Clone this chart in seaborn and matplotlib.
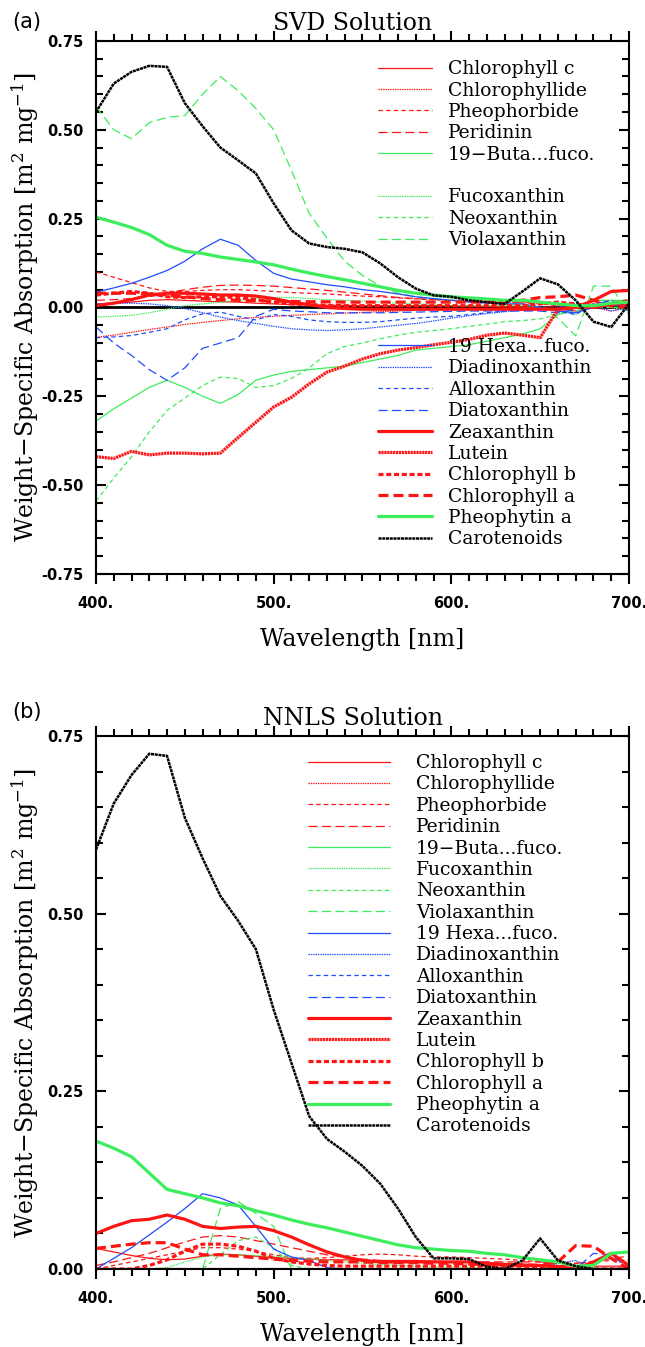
import matplotlib
matplotlib.use("Agg")
import matplotlib.pyplot as plt
from matplotlib.lines import Line2D
from matplotlib.ticker import MultipleLocator, FormatStrFormatter
import seaborn as sns

# wavelength grid [nm]
wavelength = [400, 410, 420, 430, 440, 450, 460, 470, 480, 490, 500,
              510, 520, 530, 540, 550, 560, 570, 580, 590, 600,
              610, 620, 630, 640, 650, 660, 670, 680, 690, 700]

pigments = ['Chlorophyll c', 'Chlorophyllide', 'Pheophorbide', 'Peridinin',
            '19\u2212Buta...fuco.', 'Fucoxanthin', 'Neoxanthin', 'Violaxanthin',
            '19 Hexa...fuco.', 'Diadinoxanthin', 'Alloxanthin', 'Diatoxanthin',
            'Zeaxanthin', 'Lutein', 'Chlorophyll b', 'Chlorophyll a',
            'Pheophytin a', 'Carotenoids']

# (a) SVD solution
svd_chl_c = [0.010, 0.012, 0.015, 0.020, 0.022, 0.020, 0.018, 0.016, 0.015, 0.012, 0.010,
             0.008, 0.007, 0.006, 0.006, 0.005, 0.005, 0.005, 0.005, 0.005, 0.005,
             0.004, 0.003, 0.002, 0.001, 0.000, -0.005, -0.010, 0.000, 0.005, 0.010]
svd_chlide = [-0.084, -0.078, -0.070, -0.062, -0.055, -0.048, -0.042, -0.037, -0.032, -0.028, -0.025,
              -0.022, -0.020, -0.018, -0.016, -0.014, -0.012, -0.010, -0.008, -0.006, -0.005,
              -0.004, -0.003, -0.002, 0.000, 0.000, 0.005, 0.010, 0.000, -0.010, 0.000]
svd_pheophorbide = [0.100, 0.085, 0.070, 0.055, 0.045, 0.045, 0.048, 0.050, 0.050, 0.048, 0.045,
                    0.042, 0.040, 0.038, 0.035, 0.032, 0.030, 0.027, 0.024, 0.022, 0.020,
                    0.018, 0.016, 0.015, 0.013, 0.010, 0.005, 0.000, 0.010, 0.020, 0.010]
svd_peridinin = [0.020, 0.022, 0.025, 0.030, 0.040, 0.050, 0.057, 0.062, 0.063, 0.062, 0.060,
                 0.056, 0.052, 0.048, 0.043, 0.038, 0.033, 0.028, 0.025, 0.022, 0.020,
                 0.018, 0.016, 0.015, 0.015, 0.012, 0.010, 0.010, 0.010, 0.000, -0.005]
svd_buta = [-0.320, -0.285, -0.255, -0.225, -0.205, -0.225, -0.250, -0.270, -0.245, -0.205, -0.190,
            -0.180, -0.175, -0.170, -0.165, -0.155, -0.145, -0.135, -0.120, -0.115, -0.110,
            -0.105, -0.095, -0.085, -0.075, -0.060, -0.020, 0.000, 0.020, 0.020, 0.020]
svd_fuco = [-0.027, -0.025, -0.022, -0.015, -0.005, 0.005, 0.010, 0.015, 0.020, 0.025, 0.028,
            0.028, 0.025, 0.022, 0.020, 0.018, 0.015, 0.012, 0.010, 0.008, 0.006,
            0.005, 0.005, 0.005, 0.005, 0.000, -0.010, -0.020, 0.020, 0.000, -0.010]
svd_neo = [-0.545, -0.480, -0.420, -0.350, -0.290, -0.255, -0.220, -0.196, -0.200, -0.225, -0.220,
           -0.200, -0.170, -0.130, -0.110, -0.100, -0.088, -0.078, -0.070, -0.065, -0.060,
           -0.053, -0.047, -0.040, -0.037, -0.032, -0.020, -0.010, 0.000, 0.000, 0.000]
svd_viola = [0.565, 0.500, 0.475, 0.520, 0.535, 0.540, 0.600, 0.650, 0.610, 0.560, 0.500,
             0.386, 0.265, 0.195, 0.130, 0.090, 0.060, 0.040, 0.030, 0.025, 0.020,
             0.020, 0.015, 0.010, 0.010, 0.000, -0.030, -0.080, 0.060, 0.060, -0.020]
svd_hexa = [0.043, 0.055, 0.068, 0.085, 0.104, 0.130, 0.165, 0.192, 0.175, 0.132, 0.096,
            0.080, 0.072, 0.064, 0.058, 0.050, 0.045, 0.038, 0.030, 0.025, 0.020,
            0.015, 0.012, 0.010, 0.010, 0.000, -0.010, -0.015, 0.000, 0.010, 0.005]
svd_diadino = [0.010, 0.012, 0.012, 0.010, 0.005, -0.003, -0.015, -0.027, -0.037, -0.045, -0.053,
               -0.060, -0.063, -0.065, -0.063, -0.060, -0.055, -0.050, -0.045, -0.038, -0.030,
               -0.023, -0.017, -0.012, -0.008, -0.005, 0.000, 0.010, 0.005, -0.010, 0.000]
svd_allo = [-0.085, -0.083, -0.079, -0.070, -0.060, -0.035, -0.018, -0.013, -0.025, -0.035, -0.020,
            -0.025, -0.035, -0.040, -0.042, -0.042, -0.040, -0.035, -0.030, -0.027, -0.025,
            -0.020, -0.015, -0.010, -0.005, 0.000, -0.010, -0.020, 0.010, 0.020, -0.010]
svd_diato = [-0.055, -0.100, -0.135, -0.175, -0.205, -0.170, -0.115, -0.100, -0.085, -0.025, -0.005,
             -0.010, -0.012, -0.015, -0.015, -0.015, -0.015, -0.014, -0.013, -0.012, -0.011,
             -0.010, -0.010, -0.010, -0.010, -0.010, -0.015, -0.005, 0.020, 0.010, 0.000]
svd_zea = [0.005, 0.012, 0.022, 0.035, 0.040, 0.040, 0.038, 0.035, 0.035, 0.032, 0.025,
           0.015, 0.008, 0.000, -0.003, -0.005, -0.005, -0.005, -0.005, -0.005, -0.005,
           -0.005, -0.005, -0.005, -0.005, -0.005, -0.005, 0.000, 0.020, 0.045, 0.048]
svd_lutein = [-0.420, -0.425, -0.405, -0.415, -0.410, -0.410, -0.412, -0.410, -0.366, -0.323, -0.280,
              -0.253, -0.215, -0.182, -0.165, -0.145, -0.130, -0.120, -0.113, -0.105, -0.098,
              -0.090, -0.078, -0.072, -0.078, -0.085, -0.005, 0.000, 0.000, 0.010, 0.010]
svd_chl_b = [0.035, 0.040, 0.045, 0.040, 0.030, 0.028, 0.030, 0.030, 0.028, 0.022, 0.015,
             0.010, 0.008, 0.006, 0.005, 0.005, 0.005, 0.005, 0.005, 0.005, 0.005,
             0.005, 0.005, 0.005, 0.005, 0.010, 0.015, 0.010, 0.000, 0.010, 0.020]
svd_chl_a = [0.040, 0.040, 0.040, 0.038, 0.035, 0.030, 0.025, 0.022, 0.020, 0.019, 0.018,
             0.017, 0.016, 0.016, 0.015, 0.015, 0.015, 0.015, 0.015, 0.015, 0.015,
             0.015, 0.015, 0.017, 0.020, 0.028, 0.030, 0.035, 0.020, 0.005, 0.000]
svd_pheo_a = [0.254, 0.240, 0.225, 0.205, 0.175, 0.158, 0.152, 0.142, 0.135, 0.128, 0.120,
              0.108, 0.097, 0.087, 0.078, 0.068, 0.058, 0.048, 0.040, 0.035, 0.030,
              0.027, 0.024, 0.020, 0.020, 0.015, 0.010, 0.005, 0.005, 0.012, 0.015]
svd_carot = [0.550, 0.630, 0.663, 0.680, 0.677, 0.575, 0.510, 0.450, 0.414, 0.377, 0.293,
             0.217, 0.180, 0.170, 0.165, 0.155, 0.124, 0.085, 0.053, 0.034, 0.030,
             0.020, 0.015, 0.010, 0.045, 0.082, 0.065, 0.020, -0.040, -0.055, 0.010]

# (b) NNLS solution
nnls_chl_c = [0.029, 0.024, 0.019, 0.015, 0.013, 0.014, 0.018, 0.021, 0.020, 0.018, 0.016,
              0.015, 0.014, 0.013, 0.013, 0.012, 0.012, 0.012, 0.012, 0.011, 0.010,
              0.010, 0.009, 0.008, 0.007, 0.006, 0.005, 0.004, 0.004, 0.004, 0.004]
nnls_chlide = [0.0, 0.0, 0.0, 0.0, 0.0, 0.0, 0.0, 0.0, 0.0, 0.0, 0.0,
               0.0, 0.0, 0.0, 0.0, 0.0, 0.0, 0.0, 0.0, 0.0, 0.0,
               0.0, 0.0, 0.0, 0.0, 0.0, 0.0, 0.0, 0.0, 0.0, 0.0]
nnls_pheophorbide = [0.000, 0.005, 0.010, 0.015, 0.020, 0.025, 0.030, 0.030, 0.028, 0.025, 0.020,
                     0.016, 0.015, 0.016, 0.018, 0.020, 0.021, 0.020, 0.018, 0.017, 0.017,
                     0.016, 0.015, 0.014, 0.012, 0.010, 0.008, 0.008, 0.010, 0.012, 0.012]
nnls_peridinin = [0.005, 0.010, 0.016, 0.022, 0.030, 0.038, 0.045, 0.047, 0.045, 0.040, 0.035,
                  0.030, 0.025, 0.020, 0.017, 0.014, 0.012, 0.010, 0.010, 0.010, 0.010,
                  0.010, 0.010, 0.010, 0.010, 0.010, 0.008, 0.008, 0.010, 0.015, 0.018]
nnls_buta = [0.0, 0.0, 0.0, 0.0, 0.0, 0.0, 0.0, 0.0, 0.0, 0.0, 0.0,
             0.0, 0.0, 0.0, 0.0, 0.0, 0.0, 0.0, 0.0, 0.0, 0.0,
             0.0, 0.0, 0.0, 0.0, 0.0, 0.0, 0.0, 0.0, 0.0, 0.0]
nnls_fuco = [0.000, 0.000, 0.000, 0.000, 0.002, 0.010, 0.017, 0.020, 0.020, 0.019, 0.018,
             0.016, 0.014, 0.012, 0.010, 0.008, 0.006, 0.005, 0.004, 0.003, 0.003,
             0.002, 0.001, 0.000, 0.000, 0.000, 0.000, 0.000, 0.000, 0.000, 0.000]
nnls_neo = [0.000, 0.000, 0.000, 0.000, 0.000, 0.000, 0.000, 0.020, 0.040, 0.045, 0.030,
            0.005, 0.000, 0.000, 0.000, 0.000, 0.000, 0.000, 0.000, 0.000, 0.000,
            0.000, 0.000, 0.000, 0.000, 0.000, 0.000, 0.000, 0.000, 0.000, 0.000]
nnls_viola = [0.000, 0.000, 0.000, 0.000, 0.000, 0.000, 0.000, 0.085, 0.095, 0.078, 0.060,
              0.000, 0.000, 0.000, 0.000, 0.000, 0.000, 0.000, 0.000, 0.000, 0.000,
              0.000, 0.000, 0.000, 0.000, 0.000, 0.000, 0.000, 0.000, 0.000, 0.000]
nnls_hexa = [0.000, 0.015, 0.030, 0.048, 0.066, 0.085, 0.106, 0.100, 0.090, 0.060, 0.028,
             0.017, 0.012, 0.002, 0.000, 0.000, 0.000, 0.000, 0.000, 0.000, 0.000,
             0.000, 0.000, 0.000, 0.000, 0.000, 0.000, 0.000, 0.000, 0.000, 0.000]
nnls_diadino = [0.000, 0.000, 0.000, 0.000, 0.000, 0.000, 0.000, 0.000, 0.000, 0.000, 0.000,
                0.000, 0.000, 0.000, 0.000, 0.000, 0.000, 0.000, 0.000, 0.000, 0.000,
                0.000, 0.000, 0.000, 0.000, 0.000, 0.008, 0.012, 0.000, 0.000, 0.000]
nnls_allo = [0.0, 0.0, 0.0, 0.0, 0.0, 0.0, 0.0, 0.0, 0.0, 0.0, 0.0,
             0.0, 0.0, 0.0, 0.0, 0.0, 0.0, 0.0, 0.0, 0.0, 0.0,
             0.0, 0.0, 0.0, 0.0, 0.0, 0.0, 0.0, 0.0, 0.0, 0.0]
nnls_diato = [0.000, 0.000, 0.000, 0.000, 0.000, 0.000, 0.000, 0.000, 0.000, 0.000, 0.000,
              0.000, 0.000, 0.000, 0.000, 0.000, 0.000, 0.000, 0.000, 0.000, 0.000,
              0.000, 0.000, 0.000, 0.000, 0.000, 0.000, 0.000, 0.022, 0.020, 0.000]
nnls_zea = [0.050, 0.060, 0.068, 0.070, 0.076, 0.070, 0.060, 0.057, 0.059, 0.060, 0.054,
            0.045, 0.034, 0.024, 0.017, 0.012, 0.010, 0.010, 0.010, 0.010, 0.010,
            0.010, 0.008, 0.006, 0.005, 0.005, 0.003, 0.000, 0.010, 0.022, 0.005]
nnls_lutein = [0.0, 0.0, 0.0, 0.0, 0.0, 0.0, 0.0, 0.0, 0.0, 0.0, 0.0,
               0.0, 0.0, 0.0, 0.0, 0.0, 0.0, 0.0, 0.0, 0.0, 0.0,
               0.0, 0.0, 0.0, 0.0, 0.0, 0.0, 0.0, 0.0, 0.0, 0.0]
nnls_chl_b = [0.000, 0.000, 0.000, 0.005, 0.013, 0.025, 0.035, 0.035, 0.032, 0.025, 0.015,
              0.010, 0.007, 0.005, 0.004, 0.004, 0.004, 0.004, 0.004, 0.004, 0.004,
              0.004, 0.004, 0.004, 0.004, 0.003, 0.000, 0.000, 0.000, 0.000, 0.000]
nnls_chl_a = [0.029, 0.032, 0.035, 0.037, 0.037, 0.028, 0.020, 0.020, 0.018, 0.016, 0.014,
              0.012, 0.011, 0.010, 0.010, 0.010, 0.009, 0.009, 0.009, 0.008, 0.008,
              0.007, 0.006, 0.006, 0.006, 0.005, 0.010, 0.033, 0.032, 0.015, 0.000]
nnls_pheo_a = [0.180, 0.170, 0.158, 0.135, 0.112, 0.106, 0.100, 0.093, 0.089, 0.082, 0.076,
               0.069, 0.063, 0.058, 0.052, 0.046, 0.040, 0.034, 0.030, 0.028, 0.026,
               0.025, 0.022, 0.020, 0.016, 0.013, 0.010, 0.004, 0.005, 0.022, 0.024]
nnls_carot = [0.590, 0.655, 0.695, 0.725, 0.722, 0.635, 0.578, 0.525, 0.490, 0.450, 0.365,
              0.290, 0.215, 0.183, 0.165, 0.145, 0.120, 0.085, 0.045, 0.015, 0.015,
              0.014, 0.003, 0.000, 0.012, 0.043, 0.012, 0.004, 0.000, 0.000, 0.000]

svd_series = [svd_chl_c, svd_chlide, svd_pheophorbide, svd_peridinin, svd_buta, svd_fuco,
              svd_neo, svd_viola, svd_hexa, svd_diadino, svd_allo, svd_diato, svd_zea,
              svd_lutein, svd_chl_b, svd_chl_a, svd_pheo_a, svd_carot]
nnls_series = [nnls_chl_c, nnls_chlide, nnls_pheophorbide, nnls_peridinin, nnls_buta, nnls_fuco,
               nnls_neo, nnls_viola, nnls_hexa, nnls_diadino, nnls_allo, nnls_diato, nnls_zea,
               nnls_lutein, nnls_chl_b, nnls_chl_a, nnls_pheo_a, nnls_carot]

sns.set_theme(style='white')
plt.rcParams['lines.scale_dashes'] = False
plt.rcParams['axes.unicode_minus'] = False
plt.rcParams['mathtext.fontset'] = 'dejavuserif'
plt.rcParams['text.color'] = 'black'
plt.rcParams['axes.labelcolor'] = 'black'
plt.rcParams['xtick.color'] = 'black'
plt.rcParams['ytick.color'] = 'black'

RED = '#ff1414'
GREEN = '#3ced5c'
BLUE = '#1e4cff'
thin, thick = 0.9, 2.3
solid = '-'
dot = (0, (1.0, 0.7))
sdash = (0, (3.2, 2.3))
ldash = (0, (6.5, 3.2))

line_styles = [
    (RED, thin, solid), (RED, thin, dot), (RED, thin, sdash), (RED, thin, ldash),
    (GREEN, thin, solid), (GREEN, thin, dot), (GREEN, thin, sdash), (GREEN, thin, ldash),
    (BLUE, thin, solid), (BLUE, thin, dot), (BLUE, thin, sdash), (BLUE, thin, ldash),
    (RED, thick, solid), (RED, thick, (0, (1.6, 0.5))), (RED, thick, (0, (3.6, 2.0))),
    (RED, thick, (0, (7.2, 3.6))), (GREEN, thick, solid), ('black', 1.8, (0, (2.2, 0.5))),
]

serif = 'DejaVu Serif'
label_size = 17
leg_size = 13.5

fig = plt.figure(figsize=(6.45, 13.47), dpi=100)
ax_a = fig.add_axes([0.1488, 0.5739, 0.8264, 0.3957])
ax_b = fig.add_axes([0.1488, 0.0579, 0.8264, 0.3957])


def draw_panel(ax, series, ylim, title):
    for vals, (c, lw, ls) in zip(series, line_styles):
        sns.lineplot(x=wavelength, y=vals, ax=ax, color=c, linewidth=lw,
                     linestyle=ls, estimator=None, legend=False)
    ax.set_xlim(400, 700)
    ax.set_ylim(*ylim)
    ax.xaxis.set_major_locator(MultipleLocator(100))
    ax.xaxis.set_minor_locator(MultipleLocator(10))
    ax.yaxis.set_major_locator(MultipleLocator(0.25))
    ax.yaxis.set_minor_locator(MultipleLocator(0.05))
    ax.xaxis.set_major_formatter(FormatStrFormatter('%d.'))
    ax.yaxis.set_major_formatter(FormatStrFormatter('%.2f'))
    ax.tick_params(axis='x', which='both', direction='out', top=True, bottom=True,
                   width=1.5, color='black', labelcolor='black', labelsize=10.5, pad=9)
    ax.tick_params(axis='y', which='both', direction='in', left=True, right=True,
                   width=1.5, color='black', labelcolor='black', labelsize=10.5, pad=9)
    ax.tick_params(which='major', length=7)
    ax.tick_params(which='minor', length=5)
    for sp in ax.spines.values():
        sp.set_color('black')
        sp.set_linewidth(1.5)
    for lab in ax.get_xticklabels() + ax.get_yticklabels():
        lab.set_fontweight('bold')
        lab.set_family('DejaVu Sans')
    ax.set_title(title, family=serif, fontsize=label_size, pad=8, x=0.482, color='black')
    ax.set_xlabel('Wavelength [nm]', family=serif, fontsize=label_size, labelpad=12)
    ax.set_ylabel('Weight\u2212Specific Absorption [m$^2$ mg$^{-1}$]',
                  family=serif, fontsize=label_size)
    ax.yaxis.set_label_coords(-0.103, 0.5)


def legend_handle(c, lw, ls):
    return Line2D([], [], color=c, linewidth=lw, linestyle=ls)


def blank():
    return Line2D([], [], linestyle='none')


draw_panel(ax_a, svd_series, (-0.75, 0.75), 'SVD Solution')
ax_a.axhline(0, color='black', linewidth=2.0, zorder=1)

handles_a, labels_a = [], []
for i, (name, st) in enumerate(zip(pigments, line_styles)):
    if i == 5:
        handles_a.append(blank())
        labels_a.append(' ')
    if i == 8:
        for _ in range(4):
            handles_a.append(blank())
            labels_a.append(' ')
    handles_a.append(legend_handle(*st))
    labels_a.append(name)
ax_a.legend(handles_a, labels_a, loc='upper left', bbox_to_anchor=(0.529, 0.964),
            frameon=False, prop={'family': serif, 'size': leg_size}, handlelength=2.88,
            handletextpad=0.85, labelspacing=0.18, borderpad=0, borderaxespad=0)

draw_panel(ax_b, nnls_series, (0.0, 0.75), 'NNLS Solution')
handles_b = [legend_handle(*st) for st in line_styles]
ax_b.legend(handles_b, pigments, loc='upper left', bbox_to_anchor=(0.398, 0.966),
            frameon=False, prop={'family': serif, 'size': leg_size}, handlelength=4.37,
            handletextpad=1.39, labelspacing=0.18, borderpad=0, borderaxespad=0)

fig.text(0.042, 0.9837, '(a)', ha='center', va='center', fontsize=15, family='DejaVu Sans')
fig.text(0.042, 0.4714, '(b)', ha='center', va='center', fontsize=15, family='DejaVu Sans')

fig.savefig('out.png', dpi=100)
